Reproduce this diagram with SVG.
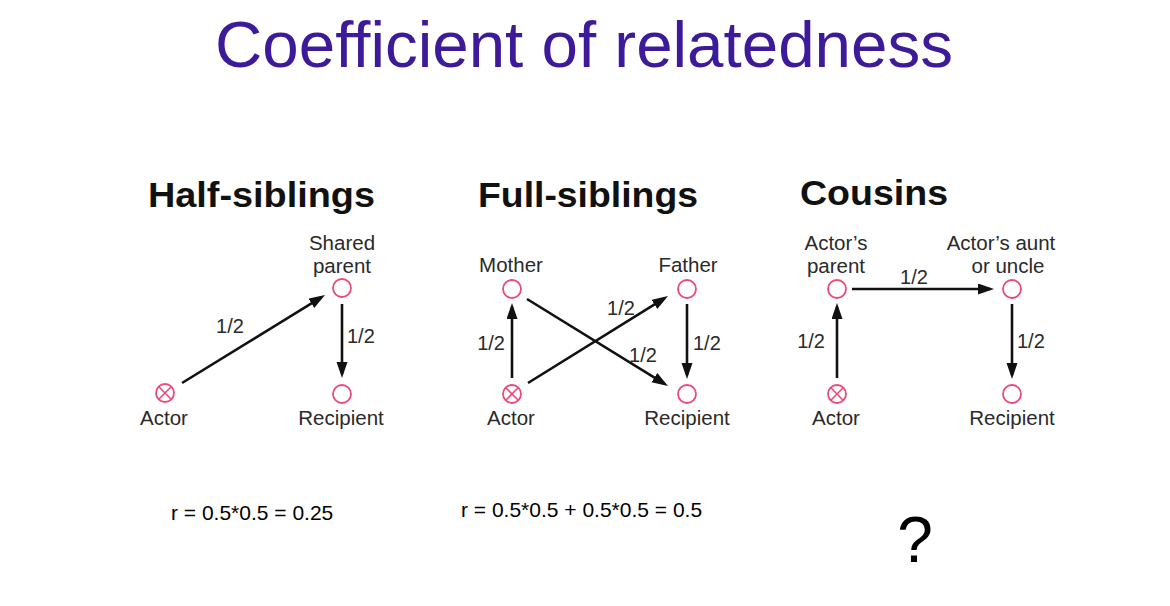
<svg xmlns="http://www.w3.org/2000/svg" width="1170" height="606" viewBox="0 0 1170 606">
<style>
.title{font-family:"Liberation Sans",Arial,sans-serif;font-size:65.5px;fill:#3d1a9a;text-anchor:middle}
.head{font-family:"Liberation Sans",Arial,sans-serif;font-size:35px;font-weight:bold;fill:#111}
.lbl{font-family:"Liberation Sans",Arial,sans-serif;font-size:20.5px;fill:#2a2a2a;text-anchor:middle}
.num{font-family:"Liberation Sans",Arial,sans-serif;font-size:20px;fill:#2a2a2a}
.f{font-family:"Liberation Sans",Arial,sans-serif;font-size:21px;fill:#000}
.q{font-family:"Liberation Sans",Arial,sans-serif;font-size:64px;fill:#000;text-anchor:middle}
.node{fill:#fff;stroke:#e94b7a;stroke-width:1.8}
.x{stroke:#e94b7a;stroke-width:1.6}
.edge{stroke:#111;stroke-width:2.6;fill:none;marker-end:url(#ah)}
</style>
<defs>
<marker id="ah" markerUnits="userSpaceOnUse" markerWidth="18" markerHeight="14" refX="12" refY="5.5" orient="auto">
<path d="M0,0 L16,5.5 L0,11 z" fill="#111"/>
</marker>
</defs>
<rect width="1170" height="606" fill="#fff"/>
<text class="title" x="584" y="67">Coefficient of relatedness</text>
<text class="head" x="148" y="207" textLength="227" lengthAdjust="spacingAndGlyphs">Half-siblings</text>
<text class="head" x="478" y="207" textLength="220" lengthAdjust="spacingAndGlyphs">Full-siblings</text>
<text class="head" x="800" y="205" textLength="148" lengthAdjust="spacingAndGlyphs">Cousins</text>

<g id="connectors">
<line class="edge" x1="182" y1="383" x2="321.6" y2="297.1"/>
<line class="edge" x1="342" y1="304" x2="342" y2="374"/>
<line class="edge" x1="512" y1="378" x2="512" y2="307"/>
<line class="edge" x1="687" y1="304" x2="687" y2="375"/>
<line class="edge" x1="528" y1="383" x2="664.6" y2="298.1"/>
<line class="edge" x1="527" y1="299" x2="664.6" y2="383.9"/>
<line class="edge" x1="852" y1="289" x2="990" y2="289"/>
<line class="edge" x1="837" y1="378" x2="837" y2="307"/>
<line class="edge" x1="1012" y1="304" x2="1012" y2="375"/>
<text class="num" x="230" y="333" text-anchor="middle">1/2</text>
<text class="num" x="347" y="343">1/2</text>
<text class="num" x="505" y="350" text-anchor="end">1/2</text>
<text class="num" x="693" y="350">1/2</text>
<text class="num" x="621" y="315" text-anchor="middle">1/2</text>
<text class="num" x="643" y="362" text-anchor="middle">1/2</text>
<text class="num" x="914" y="284" text-anchor="middle">1/2</text>
<text class="num" x="825" y="348" text-anchor="end">1/2</text>
<text class="num" x="1017" y="348">1/2</text>
</g>

<g id="half-actor"><circle class="node" cx="165" cy="393" r="9"/><line class="x" x1="158.8" y1="386.8" x2="171.2" y2="399.2"/><line class="x" x1="171.2" y1="386.8" x2="158.8" y2="399.2"/><text class="lbl" x="164" y="425">Actor</text></g>
<g id="half-shared"><circle class="node" cx="342" cy="288" r="9"/><text class="lbl" x="342" y="250">Shared</text><text class="lbl" x="342" y="273">parent</text></g>
<g id="half-recipient"><circle class="node" cx="342" cy="394" r="9"/><text class="lbl" x="341" y="425">Recipient</text></g>

<g id="full-mother"><circle class="node" cx="512" cy="289" r="9"/><text class="lbl" x="511" y="272">Mother</text></g>
<g id="full-father"><circle class="node" cx="687" cy="289" r="9"/><text class="lbl" x="688" y="272">Father</text></g>
<g id="full-actor"><circle class="node" cx="512" cy="394" r="9"/><line class="x" x1="505.8" y1="387.8" x2="518.2" y2="400.2"/><line class="x" x1="518.2" y1="387.8" x2="505.8" y2="400.2"/><text class="lbl" x="511" y="425">Actor</text></g>
<g id="full-recipient"><circle class="node" cx="687" cy="394" r="9"/><text class="lbl" x="687" y="425">Recipient</text></g>

<g id="cous-parent"><circle class="node" cx="837" cy="289" r="9"/><text class="lbl" x="836" y="250">Actor’s</text><text class="lbl" x="836" y="273">parent</text></g>
<g id="cous-aunt"><circle class="node" cx="1012" cy="289" r="9"/><text class="lbl" x="1001" y="250">Actor’s aunt</text><text class="lbl" x="1008" y="273">or uncle</text></g>
<g id="cous-actor"><circle class="node" cx="837" cy="394" r="9"/><line class="x" x1="830.8" y1="387.8" x2="843.2" y2="400.2"/><line class="x" x1="843.2" y1="387.8" x2="830.8" y2="400.2"/><text class="lbl" x="836" y="425">Actor</text></g>
<g id="cous-recipient"><circle class="node" cx="1012" cy="394" r="9"/><text class="lbl" x="1012" y="425">Recipient</text></g>

<text class="f" x="171" y="520">r = 0.5*0.5 = 0.25</text>
<text class="f" x="461" y="517">r = 0.5*0.5 + 0.5*0.5 = 0.5</text>
<text class="q" x="915" y="562">?</text>
</svg>
